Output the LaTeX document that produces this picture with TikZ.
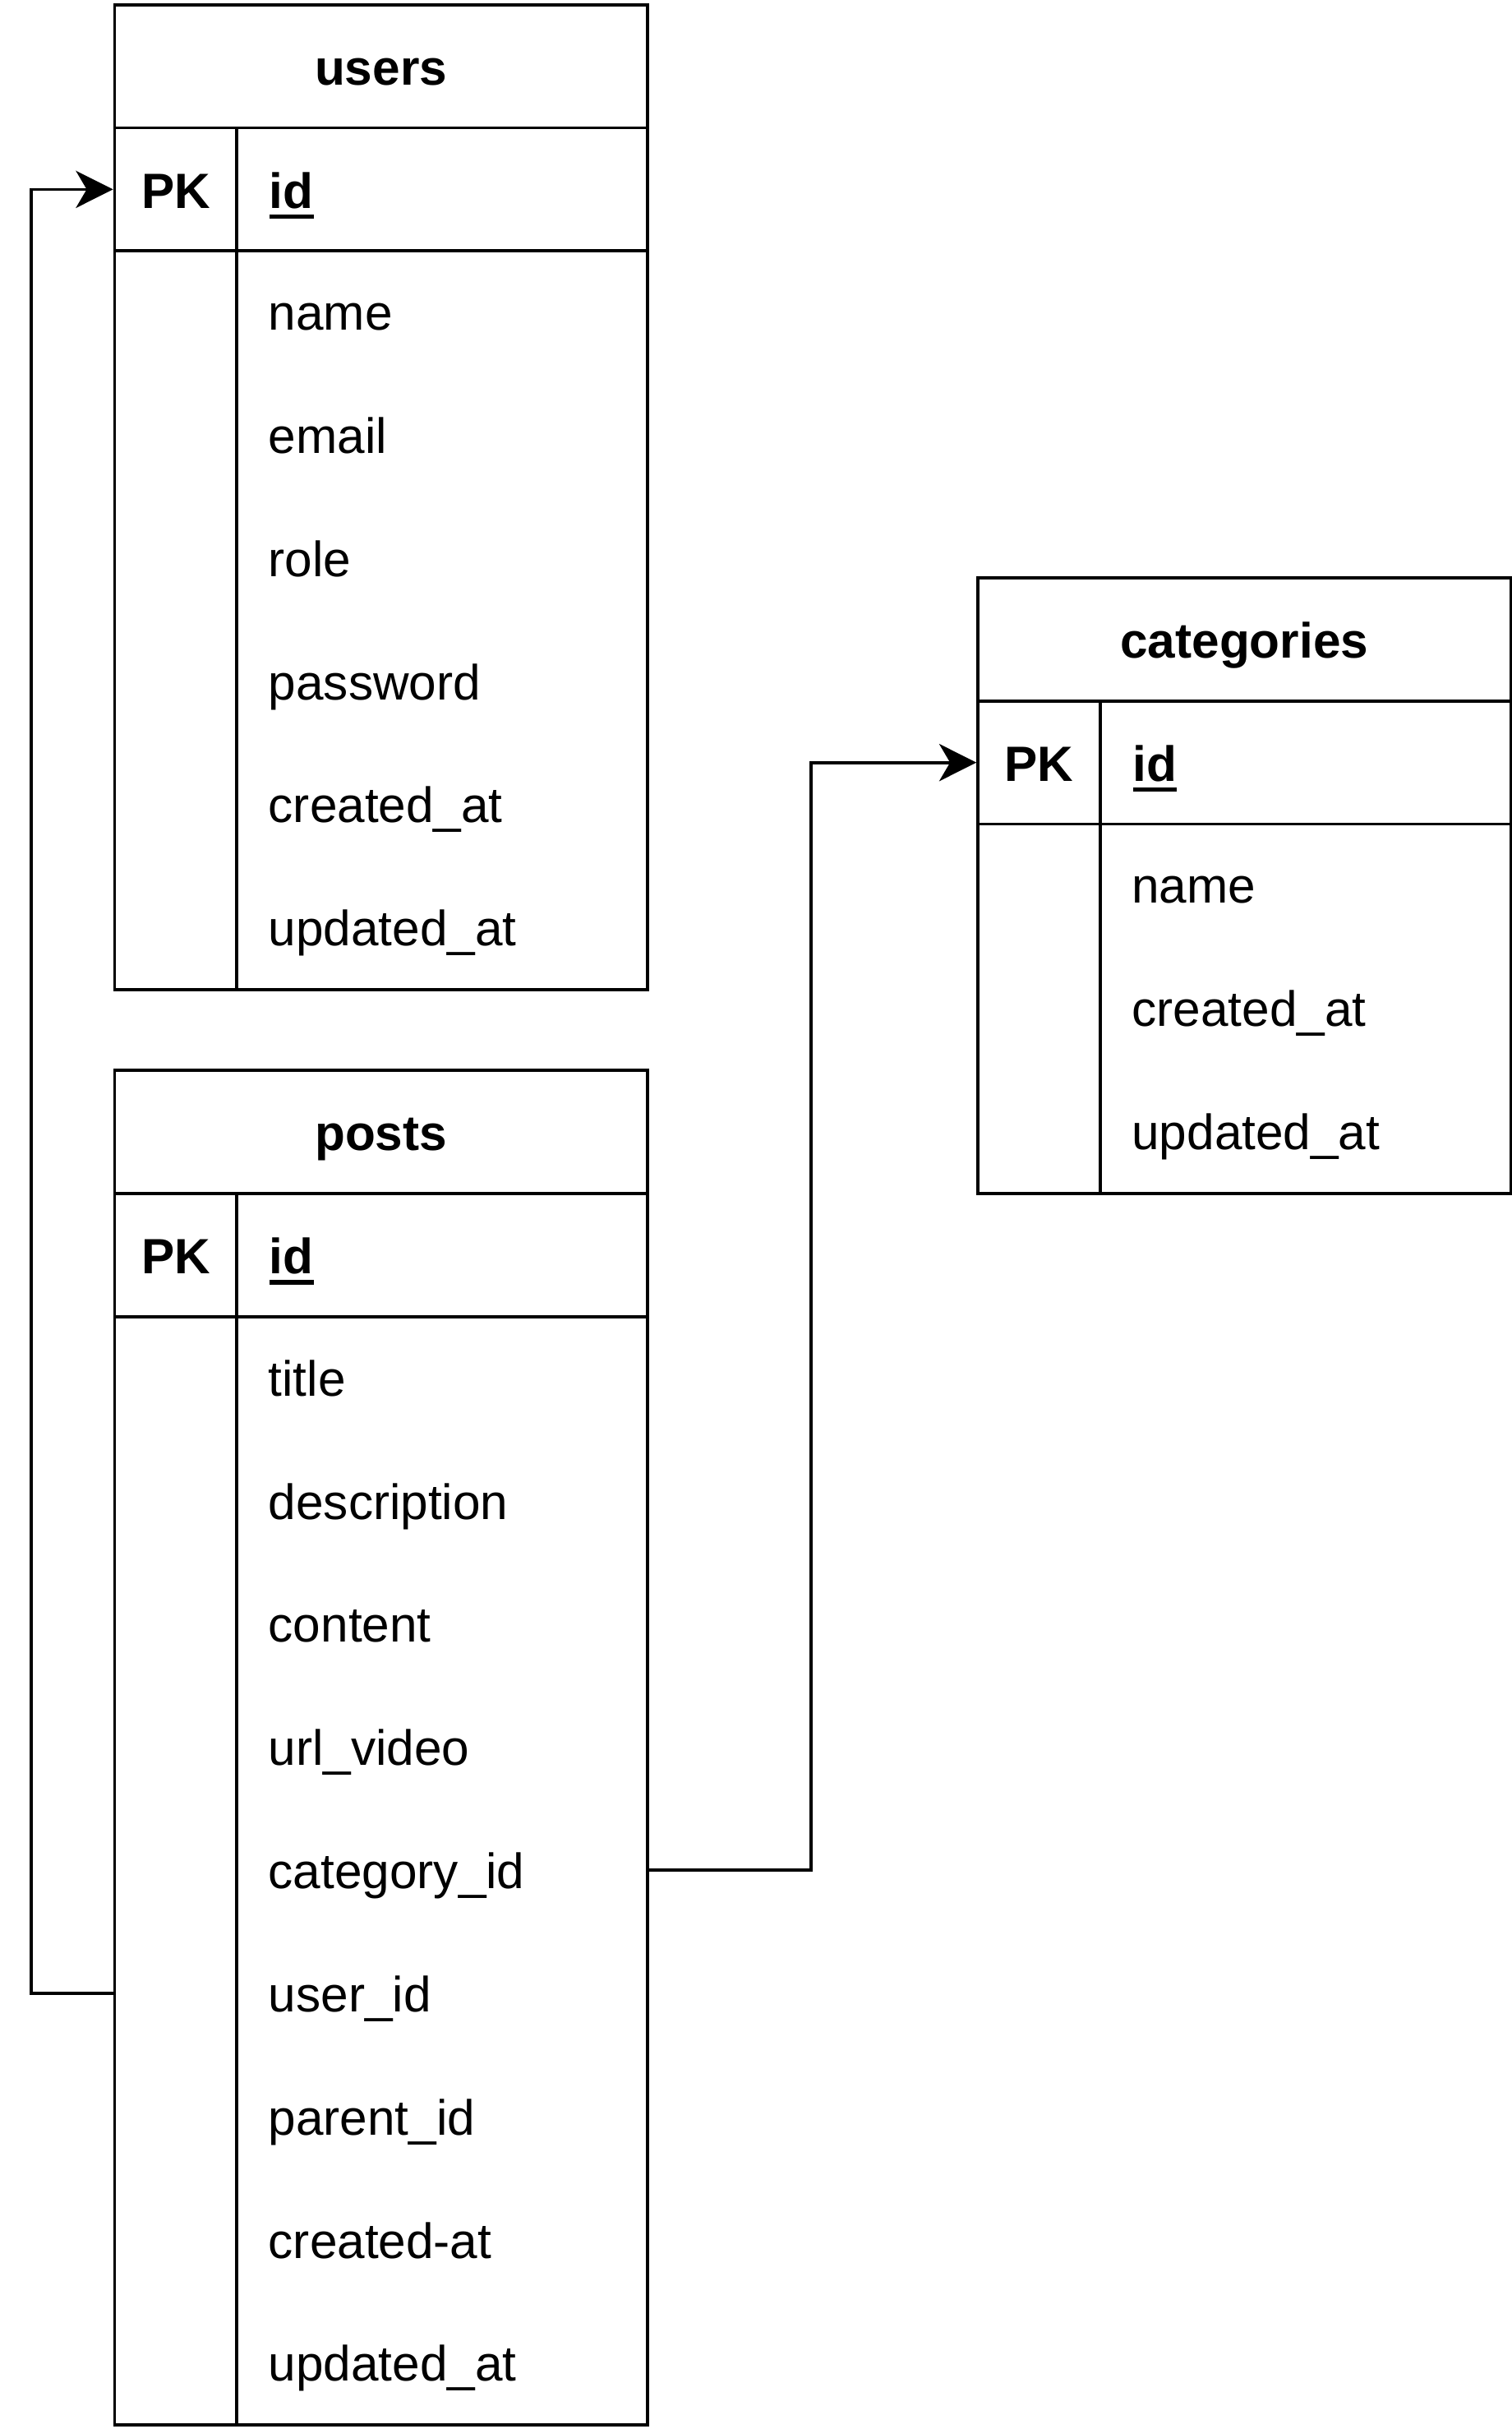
\documentclass[tikz,border=0pt]{standalone}
\usepackage{fontspec}
\setmainfont{Liberation Sans}
\usetikzlibrary{arrows.meta}
\newcommand{\fsz}{\fontsize{16}{19}\selectfont}
\newcommand{\myul}[1]{\setbox0\hbox{#1}\rlap{\smash{\rule[-3.5pt]{\wd0}{1.5pt}}}\box0}
\begin{document}
\begin{tikzpicture}[x=0.5pt,y=-0.5pt,
  box/.style={draw, line width=1pt, inner sep=0pt, anchor=north west},
  txt/.style={text height=14pt, text depth=2pt},
  hdr/.style={box, txt, minimum width=172pt, minimum height=39.75pt, font=\fsz\bfseries},
  pkc/.style={box, txt, minimum width=39.5pt, minimum height=39.75pt, font=\fsz\bfseries},
  idc/.style={box, txt, minimum width=132.5pt, minimum height=39.75pt, text width=111.5pt, align=left, inner xsep=10.5pt, font=\fsz\bfseries},
  keybody/.style={box, minimum width=39.5pt, minimum height=#1},
  fldbody/.style={box, minimum width=132.5pt, minimum height=#1},
  fld/.style={txt, inner sep=0pt, anchor=north west, minimum width=132.5pt, minimum height=39.75pt, text width=111.5pt, align=left, inner xsep=10.5pt, font=\fsz},
  conn/.style={line width=1pt, -{Stealth[length=12pt, width=12pt, inset=3.5pt]}}
]
\useasboundingbox (0,0) rectangle (976,1568);

% ---------- users ----------
\node[hdr] (uh) at (73,2) {users};
\node[pkc] (upk) at (73,81.5) {PK};
\node[idc] (uid) at (152,81.5) {\myul{id}};
\node[keybody=238.5pt] (ukb) at (73,161) {};
\node[fldbody=238.5pt] (ufb) at (152,161) {};
\node[fld] (uf1) at (152,161) {name};
\node[fld] (uf2) at (152,240.5) {email};
\node[fld] (uf3) at (152,320) {role};
\node[fld] (uf4) at (152,399.5) {password};
\node[fld] (uf5) at (152,479) {created\_at};
\node[fld] (uf6) at (152,558.5) {updated\_at};

% ---------- posts ----------
\node[hdr] (ph) at (73,690) {posts};
\node[pkc] (ppk) at (73,769.5) {PK};
\node[idc] (pid) at (152,769.5) {\myul{id}};
\node[keybody=357.75pt] (pkb) at (73,849) {};
\node[fldbody=357.75pt] (pfb) at (152,849) {};
\node[fld] (pf1) at (152,849) {title};
\node[fld] (pf2) at (152,928.5) {description};
\node[fld] (pf3) at (152,1008) {content};
\node[fld] (pf4) at (152,1087.5) {url\_video};
\node[fld] (pcat) at (152,1167) {category\_id};
\node[fld] (puser) at (152,1246.5) {user\_id};
\node[fld] (pf7) at (152,1326) {parent\_id};
\node[fld] (pf8) at (152,1405.5) {created-at};
\node[fld] (pf9) at (152,1485) {updated\_at};

% ---------- categories ----------
\node[hdr] (ch) at (630.5,372) {categories};
\node[pkc] (cpk) at (630.5,451.5) {PK};
\node[idc] (cid) at (709.5,451.5) {\myul{id}};
\node[keybody=119.25pt] (ckb) at (630.5,531) {};
\node[fldbody=119.25pt] (cfb) at (709.5,531) {};
\node[fld] (cf1) at (709.5,531) {name};
\node[fld] (cf2) at (709.5,610.5) {created\_at};
\node[fld] (cf3) at (709.5,690) {updated\_at};

% ---------- connectors ----------
\coordinate (ustart) at (puser.west -| pkb.west);
\draw[conn] (ustart) -- ([xshift=-26.5pt]ustart) |- (upk.west);
\draw[conn] (pcat.east) -- ([xshift=53pt]pcat.east) |- (cpk.west);
\end{tikzpicture}
\end{document}
